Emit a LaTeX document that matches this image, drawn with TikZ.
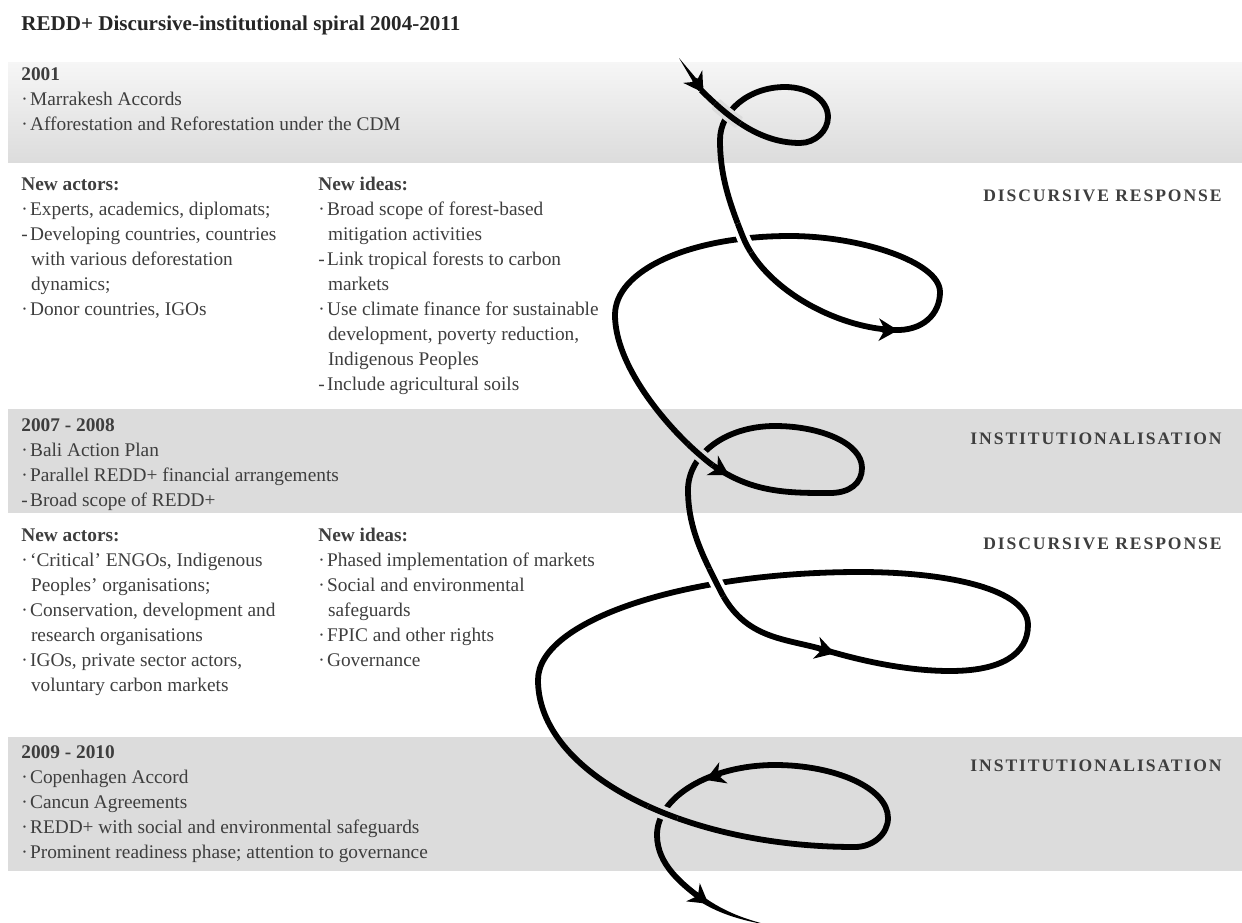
\documentclass[tikz,border=0pt]{standalone}
\usepackage{fontspec}
\setmainfont{Liberation Serif}
\newfontfamily\stagefont[LetterSpace=11]{Liberation Serif}
\usepackage{tikz}
\usetikzlibrary{arrows.meta}
\definecolor{bandgray}{RGB}{220,220,220}
\definecolor{bandlight}{RGB}{246,246,246}
\definecolor{textgray}{RGB}{62,62,62}
\newcommand{\dotitem}{\makebox[5pt][l]{·}}
\newcommand{\dashitem}{\makebox[5pt][l]{-}}
\newcommand{\contline}{\hspace*{5.5pt}}
% the spiral, one strand per turn
\newcommand{\strandA}{(701,90) .. controls +(28,28) and +(-40,0) .. (800,143) .. controls +(15,0) and +(0,14) .. (828,117) .. controls +(0,-17) and +(24,0) .. (785,87)}
\newcommand{\strandB}{(785,87) .. controls +(-36,0) and +(0,-29) .. (720,140) .. controls +(0,35) and +(-14,-35) .. (743,237) .. controls +(20,50) and +(-60,-3) .. (893,330) .. controls +(30,1.5) and +(0,22) .. (940,292) .. controls +(0,-30) and +(70,0) .. (790,236)}
\newcommand{\strandC}{(790,236) .. controls +(-100,0) and +(0,-45) .. (615,315) .. controls +(0,50) and +(-35,-30) .. (700,455) .. controls +(10,8.6) and +(-12,-7) .. (725,473) .. controls +(35,20.4) and +(-35,0) .. (830,493) .. controls +(20,0) and +(0,15) .. (862,468) .. controls +(0,-25) and +(45,0) .. (775,426)}
\newcommand{\strandD}{(775,426) .. controls +(-50,0) and +(0,-35) .. (688,490) .. controls +(0,40) and +(-15,-30) .. (720,590) .. controls +(25,50) and +(-40,-12) .. (825,650) .. controls +(40,12) and +(-40,0) .. (950,671) .. controls +(50,0) and +(0,30) .. (1028,625) .. controls +(0,-35) and +(90,0) .. (860,572)}
\newcommand{\strandE}{(860,572) .. controls +(-177,0) and +(0,-59) .. (538,680) .. controls +(0,92) and +(-174,0) .. (855,847) .. controls +(18,0) and +(0,16) .. (888,818) .. controls +(0,-30) and +(60,0) .. (775,765)}
\newcommand{\strandF}{(775,765) .. controls +(-65,0) and +(0,-38) .. (657,835) .. controls +(0,30) and +(-20,-15) .. (703,900)}

\begin{document}
\begin{tikzpicture}[x=0.02cm, y=-0.02cm,
    listtext/.style={anchor=base west, align=left, inner sep=0pt, text=textgray, font=\fontsize{11}{14.17}\selectfont},
    titletext/.style={anchor=base west, inner sep=0pt, text=black!85, font=\fontsize{12}{14}\selectfont\bfseries},
    stagelabel/.style={anchor=base east, inner sep=0pt, text=textgray, font=\stagefont\fontsize{10}{12}\selectfont\bfseries},
    spiral/.style={line width=3.3pt},
    halo/.style={draw=#1, line width=7.5pt},
    spiralhead/.style={line width=3.3pt, -{Stealth[length=11pt, width=13pt, inset=3.5pt, line width=0pt]}}]
    \useasboundingbox (0,0) rectangle (1242,923);
    % bands
    \shade[top color=bandlight, bottom color=bandgray] (8,62) rectangle (1242,162);
    \fill[bandgray] (8,409) rectangle (1242,513);
    \fill[bandgray] (8,737) rectangle (1242,871);

    \node[titletext] (title) at (21,30) {REDD+ Discursive-institutional spiral 2004-2011};

    % base = last line of each block
    \node[listtext] (acc2001) at (21,130) {\textbf{2001}\\ \dotitem Marrakesh Accords\\ \dotitem Afforestation and Reforestation under the CDM};
    \node[listtext] (actors1) at (21,315) {\textbf{New actors:}\\ \dotitem Experts, academics, diplomats;\\ \dashitem Developing countries, countries\\ \contline with various deforestation\\ \contline dynamics;\\ \dotitem Donor countries, IGOs};
    \node[listtext] (ideas1) at (318,390) {\textbf{New ideas:}\\ \dotitem Broad scope of forest-based\\ \contline mitigation activities\\ \dashitem Link tropical forests to carbon\\ \contline markets\\ \dotitem Use climate finance for sustainable\\ \contline development, poverty reduction,\\ \contline Indigenous Peoples\\ \dashitem Include agricultural soils};
    \node[listtext] (acc2007) at (21,506) {\textbf{2007 - 2008}\\ \dotitem Bali Action Plan\\ \dotitem Parallel REDD+ financial arrangements\\ \dashitem Broad scope of REDD+};
    \node[listtext] (actors2) at (21,691) {\textbf{New actors:}\\ \dotitem `Critical' ENGOs, Indigenous\\ \contline Peoples' organisations;\\ \dotitem Conservation, development and\\ \contline research organisations\\ \dotitem IGOs, private sector actors,\\ \contline voluntary carbon markets};
    \node[listtext] (ideas2) at (318,666) {\textbf{New ideas:}\\ \dotitem Phased implementation of markets\\ \dotitem Social and environmental\\ \contline safeguards\\ \dotitem FPIC and other rights\\ \dotitem Governance};
    \node[listtext] (acc2009) at (21,858) {\textbf{2009 - 2010}\\ \dotitem Copenhagen Accord\\ \dotitem Cancun Agreements\\ \dotitem REDD+ with social and environmental safeguards\\ \dotitem Prominent readiness phase; attention to governance};

    \node[stagelabel] (disc1) at (1222,201) {DISCURSIVE RESPONSE};
    \node[stagelabel] (inst1) at (1222,444) {INSTITUTIONALISATION};
    \node[stagelabel] (disc2) at (1222,549) {DISCURSIVE RESPONSE};
    \node[stagelabel] (inst2) at (1222,771) {INSTITUTIONALISATION};

    % spiral
    \fill (679,58) -- (703.5,87) -- (698.5,91) -- cycle;
    \draw[spiral] \strandF;
    \draw[spiral] \strandE;
    \draw[spiral] \strandD;
    \draw[spiral] \strandC;
    \draw[spiral] \strandB;
    \draw[spiral] \strandA;
    \fill (704.2,897.3) .. controls (725,912) and (745,919) .. (768,925) .. controls (745,921) and (722,915) .. (701.8,902.7) -- cycle;

    % earlier turn passes in front
    \begin{scope}
        \clip (727,114) circle (16);
        \draw[halo=bandgray] \strandA;
        \draw[spiral] \strandA;
    \end{scope}
    \begin{scope}
        \clip (744,238) circle (16);
        \draw[halo=white] \strandB;
        \draw[spiral] \strandB;
    \end{scope}
    \begin{scope}
        \clip (700,455) circle (16);
        \draw[halo=bandgray] \strandC;
        \draw[spiral] \strandC;
    \end{scope}
    \begin{scope}
        \clip (713,584) circle (16);
        \draw[halo=white] \strandD;
        \draw[spiral] \strandD;
    \end{scope}
    \begin{scope}
        \clip (662,814) circle (16);
        \draw[halo=bandgray] \strandE;
        \draw[spiral] \strandE;
    \end{scope}

    \draw[spiralhead] (694.6,79.4) -- ++(8.8,13.3);
    \draw[spiralhead] (882,329.8) -- ++(16,0.5);
    \draw[spiralhead] (715.1,467) -- ++(13.8,8);
    \draw[spiralhead] (819.3,648.7) -- ++(15.4,4.6);
    \draw[spiralhead] (720.4,774) -- ++(-14.9,5.9);
    \draw[spiralhead] (695.6,894.2) -- ++(12.8,9.6);
\end{tikzpicture}
\end{document}
